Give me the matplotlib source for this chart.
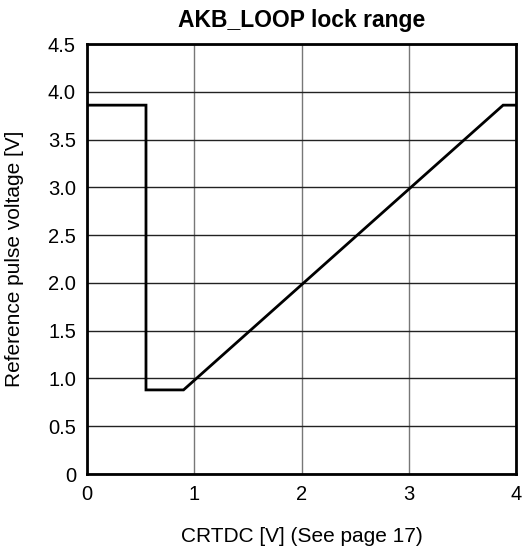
import matplotlib
matplotlib.use("Agg")
import matplotlib.pyplot as plt

plt.rcParams['font.family'] = ['Liberation Sans', 'DejaVu Sans']

x_vals = [0.0, 0.55, 0.55, 0.90, 3.88, 4.0]
y_vals = [3.86, 3.86, 0.88, 0.88, 3.86, 3.86]
x_ticks = [0, 1, 2, 3, 4]
y_ticks = [0, 0.5, 1.0, 1.5, 2.0, 2.5, 3.0, 3.5, 4.0, 4.5]
y_tick_labels = ["0", "0.5", "1.0", "1.5", "2.0", "2.5", "3.0", "3.5", "4.0", "4.5"]

fig = plt.figure(figsize=(5.25, 5.54), dpi=100)
ax = fig.add_axes([87/525, 1-474/554, (516-87)/525, (474-44)/554])
ax.plot(x_vals, y_vals, color='black', lw=2.0, solid_joinstyle='miter', zorder=3)
ax.set_xlim(0, 4)
ax.set_ylim(0, 4.5)
ax.set_xticks(x_ticks)
ax.set_xticklabels([str(t) for t in x_ticks])
ax.set_yticks(y_ticks)
ax.set_yticklabels(y_tick_labels)
ax.grid(True, axis='y', color='#222222', lw=1.0)
ax.grid(True, axis='x', color='#777777', lw=1.0)
ax.tick_params(axis='x', length=0, labelsize=14.5, pad=8)
ax.tick_params(axis='y', length=0, labelsize=14.5, pad=8)
for s in ax.spines.values():
    s.set_linewidth(2.0)
fig.text(0.5 * (87 + 516) / 525, 1 - 20 / 554, "AKB_LOOP lock range", fontsize=16.5,
         fontweight='bold', ha='center', va='center')
fig.text(0.5 * (87 + 516) / 525, 1 - 537 / 554, "CRTDC [V] (See page 17)", fontsize=15,
         ha='center', va='center')
fig.text(15 / 525, 1 - 259 / 554, "Reference pulse voltage [V]", fontsize=15,
         ha='center', va='center', rotation=90)
fig.savefig("out.png", dpi=100)
